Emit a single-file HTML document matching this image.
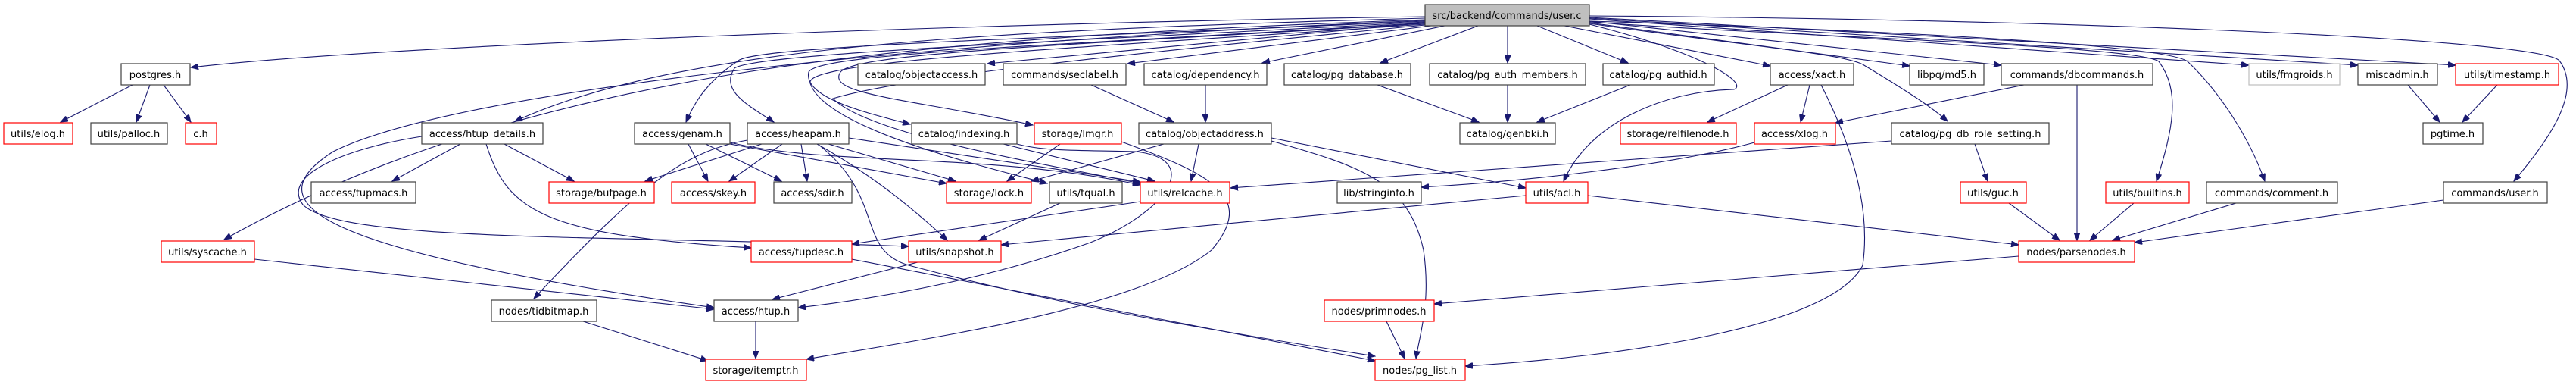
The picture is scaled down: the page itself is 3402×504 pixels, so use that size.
<!DOCTYPE html>
<html><head><meta charset="utf-8"><style>
html,body{margin:0;padding:0;background:#fff;}
svg{display:block;}
text{font-family:"DejaVu Sans","Liberation Sans",sans-serif;font-size:13px;text-anchor:middle;fill:#000;}
.n{fill:#fff;stroke:#404040;stroke-width:1.2;}
.r{fill:#fff;stroke:#ff0000;stroke-width:1.2;}
.g{fill:#fff;stroke:#bfbfbf;stroke-width:1.2;}
.e{fill:none;stroke:#191970;stroke-width:1.1;marker-end:url(#a);}
</style></head><body>
<svg width="3402" height="504" viewBox="0 0 3402 504" xmlns="http://www.w3.org/2000/svg">
<defs><marker id="a" markerUnits="userSpaceOnUse" markerWidth="11" markerHeight="8" refX="10" refY="4" orient="auto"><path d="M0,0 L10,4 L0,8 z" fill="#191970" stroke="#191970"/></marker></defs>

<!-- edges from root -->
<path class="e" d="M1882,22 C1300,30 500,60 252,89"/>
<path class="e" d="M1882,24 C1300,40 900,60 680,160"/>
<path class="e" d="M1882,26 C1200,50 700,90 296,316"/>
<path class="e" d="M1882,27 C1200,55 600,120 440,200 C330,270 420,330 943,406"/>
<path class="e" d="M1882,28 C1400,50 1000,60 975,80 C930,110 915,140 906,161"/>
<path class="e" d="M1882,29 C1400,55 1000,70 970,90 C950,120 990,140 1022,161"/>
<path class="e" d="M1882,30 C1400,60 1080,70 1068,95 C1060,130 1150,150 1202,164"/>
<path class="e" d="M1882,31 C1400,60 1130,70 1110,95 C1090,125 1200,130 1364,165"/>
<path class="e" d="M1882,32 C1400,65 1060,80 1070,110 C1090,170 1300,220 1383,242"/>
<path class="e" d="M1882,33 C1500,70 1200,100 1100,130 C1150,180 1400,220 1506,242"/>
<path class="e" d="M1882,30 L1304,84"/>
<path class="e" d="M1890,34 L1489,84"/>
<path class="e" d="M1908,34 L1667,83"/>
<path class="e" d="M1952,34 L1823,83"/>
<path class="e" d="M1991,34 L1991,83"/>
<path class="e" d="M2030,34 L2150,83"/>
<path class="e" d="M2066,34 L2338,87"/>
<path class="e" d="M2099,32 C2250,70 2310,110 2290,118 C2200,120 2100,160 2065,239"/>
<path class="e" d="M2099,30 L2522,87"/>
<path class="e" d="M2099,31 C2300,60 2430,70 2460,85 C2510,115 2550,140 2572,160"/>
<path class="e" d="M2099,28 L2643,86"/>
<path class="e" d="M2099,29 C2400,50 2820,60 2851,81 C2880,120 2870,170 2848,239"/>
<path class="e" d="M2099,28 C2500,40 2870,60 2890,82 C2930,120 2970,180 2991,239"/>
<path class="e" d="M2099,25 L2970,86"/>
<path class="e" d="M2099,24 L3114,86"/>
<path class="e" d="M2099,23 L3243,86"/>
<path class="e" d="M2099,21 C2700,25 3350,50 3380,80 C3410,120 3370,180 3320,239"/>

<!-- other edges -->
<path class="e" d="M175,112 L80,161"/>
<path class="e" d="M198,112 L180,161"/>
<path class="e" d="M216,112 L252,161"/>
<path class="e" d="M608,190 L518,239"/>
<path class="e" d="M666,190 L758,239"/>
<path class="e" d="M642,190 C670,280 720,310 992,327"/>
<path class="e" d="M557,180 C460,195 370,230 400,270 C450,320 800,310 1200,325"/>
<path class="e" d="M909,190 L935,239"/>
<path class="e" d="M932,190 L1032,239"/>
<path class="e" d="M964,188 C1100,220 1300,200 1506,244"/>
<path class="e" d="M964,190 L1250,242"/>
<path class="e" d="M1006,190 L852,239"/>
<path class="e" d="M987,185 C900,200 840,250 705,394"/>
<path class="e" d="M1033,190 L963,239"/>
<path class="e" d="M1058,190 L1066,239"/>
<path class="e" d="M1094,190 L1262,239"/>
<path class="e" d="M1121,182 L1506,240"/>
<path class="e" d="M1079,190 C1150,230 1200,270 1251,317"/>
<path class="e" d="M1080,190 C1170,260 1130,330 1200,350 C1350,390 1500,420 1816,470"/>
<path class="e" d="M1325,190 L1525,239"/>
<path class="e" d="M1400,190 L1330,239"/>
<path class="e" d="M1343,190 C1380,200 1430,198 1500,200 C1590,210 1540,280 1440,320 C1300,370 1150,395 1054,406"/>
<path class="e" d="M1481,187 C1600,230 1660,260 1600,330 C1500,410 1200,450 1065,474"/>
<path class="e" d="M1537,190 L1362,239"/>
<path class="e" d="M1583,190 L1573,239"/>
<path class="e" d="M1679,186 C1800,220 1860,240 1880,330 C1890,400 1875,440 1870,473"/>
<path class="e" d="M1679,182 L2015,248"/>
<path class="e" d="M1592,112 L1592,161"/>
<path class="e" d="M1441,112 L1550,161"/>
<path class="e" d="M2317,188 C2200,220 2000,240 1877,247"/>
<path class="e" d="M2498,186 L1625,248"/>
<path class="e" d="M2608,190 L2625,239"/>
<path class="e" d="M2673,112 L2424,162"/>
<path class="e" d="M2743,112 L2743,317"/>
<path class="e" d="M2361,112 L2255,161"/>
<path class="e" d="M2390,112 L2378,161"/>
<path class="e" d="M2405,112 C2450,200 2470,280 2460,350 C2420,430 2150,470 1935,483"/>
<path class="e" d="M1819,112 L1953,161"/>
<path class="e" d="M1991,112 L1991,161"/>
<path class="e" d="M2153,112 L2030,161"/>
<path class="e" d="M1400,268 L1293,317"/>
<path class="e" d="M1506,266 L1125,322"/>
<path class="e" d="M2015,258 L1322,323"/>
<path class="e" d="M2097,258 L2666,323"/>
<path class="e" d="M2653,268 L2720,317"/>
<path class="e" d="M2818,268 L2760,317"/>
<path class="e" d="M2953,268 L2790,317"/>
<path class="e" d="M3227,264 L2819,320"/>
<path class="e" d="M2666,338 L1894,401"/>
<path class="e" d="M1831,424 L1855,473"/>
<path class="e" d="M1125,342 L1816,476"/>
<path class="e" d="M1212,346 L1020,395"/>
<path class="e" d="M998,424 L998,473"/>
<path class="e" d="M770,424 L935,476"/>
<path class="e" d="M336,342 L943,408"/>
<path class="e" d="M3180,112 L3222,161"/>
<path class="e" d="M3298,112 L3252,161"/>

<!-- nodes -->
<rect x="1882" y="6" width="217" height="28" fill="#bfbfbf" stroke="#404040" stroke-width="1.2"/><text x="1990" y="25">src/backend/commands/user.c</text>

<rect class="n" x="160" y="84" width="91" height="28"/><text x="205" y="103">postgres.h</text>
<rect class="n" x="1133" y="84" width="168" height="28"/><text x="1217" y="103">catalog/objectaccess.h</text>
<rect class="n" x="1325" y="84" width="162" height="28"/><text x="1406" y="103">commands/seclabel.h</text>
<rect class="n" x="1511" y="84" width="162" height="28"/><text x="1592" y="103">catalog/dependency.h</text>
<rect class="n" x="1696" y="84" width="167" height="28"/><text x="1779" y="103">catalog/pg_database.h</text>
<rect class="n" x="1888" y="84" width="206" height="28"/><text x="1991" y="103">catalog/pg_auth_members.h</text>
<rect class="n" x="2117" y="84" width="147" height="28"/><text x="2190" y="103">catalog/pg_authid.h</text>
<rect class="n" x="2338" y="84" width="110" height="28"/><text x="2393" y="103">access/xact.h</text>
<rect class="n" x="2522" y="84" width="98" height="28"/><text x="2571" y="103">libpq/md5.h</text>
<rect class="n" x="2643" y="84" width="200" height="28"/><text x="2743" y="103">commands/dbcommands.h</text>
<rect class="g" x="2970" y="84" width="120" height="28"/><text x="3030" y="103">utils/fmgroids.h</text>
<rect class="n" x="3114" y="84" width="105" height="28"/><text x="3166" y="103">miscadmin.h</text>
<rect class="r" x="3243" y="84" width="136" height="28"/><text x="3311" y="103">utils/timestamp.h</text>

<rect class="r" x="5" y="162" width="91" height="28"/><text x="50" y="181">utils/elog.h</text>
<rect class="n" x="120" y="162" width="101" height="28"/><text x="170" y="181">utils/palloc.h</text>
<rect class="r" x="245" y="162" width="41" height="28"/><text x="265" y="181">c.h</text>
<rect class="n" x="557" y="162" width="160" height="28"/><text x="637" y="181">access/htup_details.h</text>
<rect class="n" x="838" y="162" width="126" height="28"/><text x="901" y="181">access/genam.h</text>
<rect class="n" x="987" y="162" width="134" height="28"/><text x="1054" y="181">access/heapam.h</text>
<rect class="n" x="1204" y="162" width="139" height="28"/><text x="1273" y="181">catalog/indexing.h</text>
<rect class="r" x="1366" y="162" width="115" height="28"/><text x="1423" y="181">storage/lmgr.h</text>
<rect class="n" x="1504" y="162" width="175" height="28"/><text x="1591" y="181">catalog/objectaddress.h</text>
<rect class="n" x="1928" y="162" width="126" height="28"/><text x="1991" y="181">catalog/genbki.h</text>
<rect class="r" x="2140" y="162" width="153" height="28"/><text x="2216" y="181">storage/relfilenode.h</text>
<rect class="r" x="2317" y="162" width="107" height="28"/><text x="2370" y="181">access/xlog.h</text>
<rect class="n" x="2498" y="162" width="208" height="28"/><text x="2602" y="181">catalog/pg_db_role_setting.h</text>
<rect class="n" x="3200" y="162" width="79" height="28"/><text x="3239" y="181">pgtime.h</text>

<rect class="n" x="411" y="240" width="138" height="28"/><text x="480" y="259">access/tupmacs.h</text>
<rect class="r" x="725" y="240" width="139" height="28"/><text x="794" y="259">storage/bufpage.h</text>
<rect class="r" x="887" y="240" width="110" height="28"/><text x="942" y="259">access/skey.h</text>
<rect class="n" x="1022" y="240" width="103" height="28"/><text x="1073" y="259">access/sdir.h</text>
<rect class="r" x="1250" y="240" width="112" height="28"/><text x="1306" y="259">storage/lock.h</text>
<rect class="n" x="1386" y="240" width="96" height="28"/><text x="1434" y="259">utils/tqual.h</text>
<rect class="r" x="1506" y="240" width="118" height="28"/><text x="1565" y="259">utils/relcache.h</text>
<rect class="n" x="1766" y="240" width="111" height="28"/><text x="1821" y="259">lib/stringinfo.h</text>
<rect class="r" x="2015" y="240" width="82" height="28"/><text x="2056" y="259">utils/acl.h</text>
<rect class="r" x="2589" y="240" width="87" height="28"/><text x="2632" y="259">utils/guc.h</text>
<rect class="r" x="2781" y="240" width="110" height="28"/><text x="2836" y="259">utils/builtins.h</text>
<rect class="n" x="2914" y="240" width="173" height="28"/><text x="3000" y="259">commands/comment.h</text>
<rect class="n" x="3227" y="240" width="137" height="28"/><text x="3295" y="259">commands/user.h</text>

<rect class="r" x="213" y="318" width="123" height="28"/><text x="274" y="337">utils/syscache.h</text>
<rect class="r" x="992" y="318" width="133" height="28"/><text x="1058" y="337">access/tupdesc.h</text>
<rect class="r" x="1200" y="318" width="122" height="28"/><text x="1261" y="337">utils/snapshot.h</text>
<rect class="r" x="2666" y="318" width="153" height="28"/><text x="2742" y="337">nodes/parsenodes.h</text>

<rect class="n" x="649" y="396" width="139" height="28"/><text x="718" y="415">nodes/tidbitmap.h</text>
<rect class="n" x="943" y="396" width="111" height="28"/><text x="998" y="415">access/htup.h</text>
<rect class="r" x="1749" y="396" width="145" height="28"/><text x="1821" y="415">nodes/primnodes.h</text>

<rect class="r" x="932" y="474" width="133" height="28"/><text x="998" y="493">storage/itemptr.h</text>
<rect class="r" x="1816" y="474" width="119" height="28"/><text x="1875" y="493">nodes/pg_list.h</text>
</svg>
</body></html>
